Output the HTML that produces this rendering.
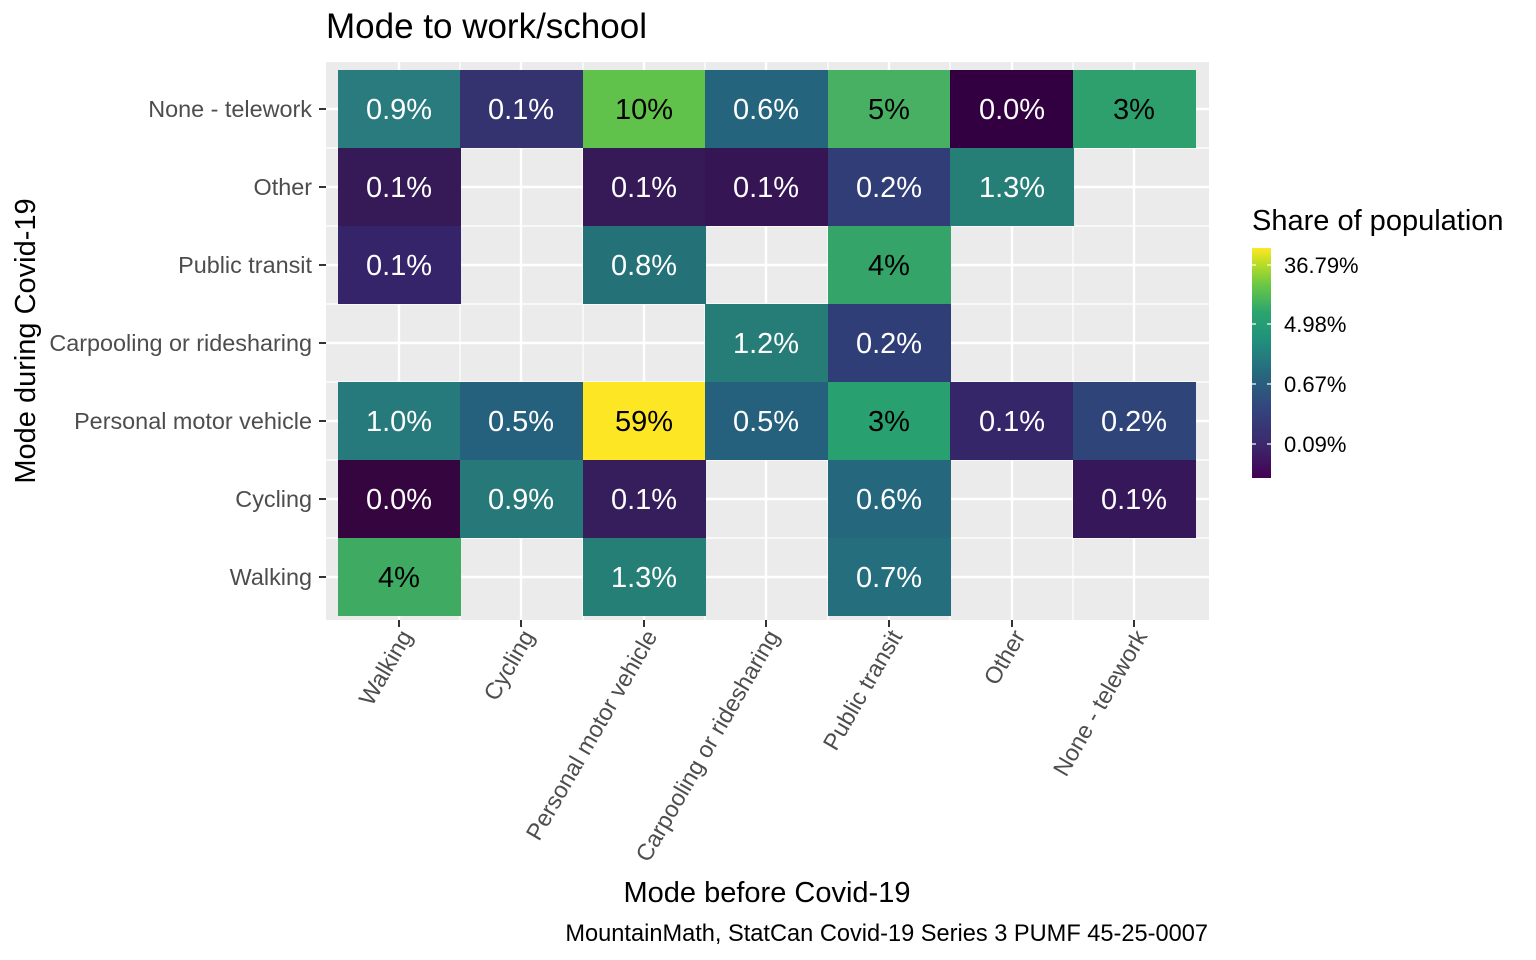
<!DOCTYPE html>
<html><head><meta charset="utf-8"><style>body{margin:0;background:#fff}svg{display:block}text{font-family:"Liberation Sans",sans-serif}</style></head><body>
<svg width="1536" height="960" xmlns="http://www.w3.org/2000/svg">
<defs><linearGradient id="g" x1="0" y1="1" x2="0" y2="0">
<stop offset="0" stop-color="#440154"/><stop offset="0.15" stop-color="#3b2a6e"/><stop offset="0.3" stop-color="#34447e"/><stop offset="0.45" stop-color="#27677e"/><stop offset="0.6" stop-color="#21907d"/><stop offset="0.72" stop-color="#2ba56e"/><stop offset="0.84" stop-color="#6ac845"/><stop offset="0.94" stop-color="#c2df23"/><stop offset="1" stop-color="#fde725"/></linearGradient></defs>
<text x="326" y="38" font-size="35">Mode to work/school</text>
<rect x="326" y="62" width="883" height="558" fill="#ebebeb"/>
<g stroke="#fff" stroke-width="1.2">
<line x1="460" y1="62" x2="460" y2="620"/><line x1="583" y1="62" x2="583" y2="620"/><line x1="705" y1="62" x2="705" y2="620"/><line x1="828" y1="62" x2="828" y2="620"/><line x1="950" y1="62" x2="950" y2="620"/><line x1="1073" y1="62" x2="1073" y2="620"/>
<line x1="326" y1="148" x2="1209" y2="148"/><line x1="326" y1="226" x2="1209" y2="226"/><line x1="326" y1="304" x2="1209" y2="304"/><line x1="326" y1="382" x2="1209" y2="382"/><line x1="326" y1="460" x2="1209" y2="460"/><line x1="326" y1="538" x2="1209" y2="538"/>
</g>
<g stroke="#fff" stroke-width="2.4">
<line x1="399" y1="62" x2="399" y2="620"/><line x1="521" y1="62" x2="521" y2="620"/><line x1="644" y1="62" x2="644" y2="620"/><line x1="766" y1="62" x2="766" y2="620"/><line x1="889" y1="62" x2="889" y2="620"/><line x1="1012" y1="62" x2="1012" y2="620"/><line x1="1134" y1="62" x2="1134" y2="620"/>
<line x1="326" y1="109" x2="1209" y2="109"/><line x1="326" y1="187" x2="1209" y2="187"/><line x1="326" y1="265" x2="1209" y2="265"/><line x1="326" y1="343" x2="1209" y2="343"/><line x1="326" y1="421" x2="1209" y2="421"/><line x1="326" y1="499" x2="1209" y2="499"/><line x1="326" y1="577" x2="1209" y2="577"/>
</g>
<g>
<rect x="338" y="70" width="123" height="78" fill="#297b7e"/><rect x="460" y="70" width="124" height="78" fill="#35336f"/><rect x="583" y="70" width="123" height="78" fill="#60c24a"/><rect x="705" y="70" width="124" height="78" fill="#24657d"/><rect x="828" y="70" width="123" height="78" fill="#48b063"/><rect x="950" y="70" width="124" height="78" fill="#320040"/><rect x="1073" y="70" width="123" height="78" fill="#2ea06e"/>
<rect x="338" y="148" width="123" height="78" fill="#361a57"/><rect x="583" y="148" width="123" height="78" fill="#361a57"/><rect x="705" y="148" width="124" height="78" fill="#361555"/><rect x="828" y="148" width="123" height="78" fill="#303d76"/><rect x="950" y="148" width="124" height="78" fill="#257f77"/>
<rect x="338" y="226" width="123" height="78" fill="#35246a"/><rect x="583" y="226" width="123" height="78" fill="#247278"/><rect x="828" y="226" width="123" height="78" fill="#34a468"/>
<rect x="705" y="304" width="124" height="78" fill="#267d78"/><rect x="828" y="304" width="123" height="78" fill="#303e77"/>
<rect x="338" y="382" width="123" height="78" fill="#277a7b"/><rect x="460" y="382" width="124" height="78" fill="#25607c"/><rect x="583" y="382" width="123" height="78" fill="#fde725"/><rect x="705" y="382" width="124" height="78" fill="#25607c"/><rect x="828" y="382" width="123" height="78" fill="#29a070"/><rect x="950" y="382" width="124" height="78" fill="#35266a"/><rect x="1073" y="382" width="123" height="78" fill="#2f4478"/>
<rect x="338" y="460" width="123" height="78" fill="#34053f"/><rect x="460" y="460" width="124" height="78" fill="#277878"/><rect x="583" y="460" width="123" height="78" fill="#361d5c"/><rect x="828" y="460" width="123" height="78" fill="#25687e"/><rect x="1073" y="460" width="123" height="78" fill="#36185a"/>
<rect x="338" y="538" width="123" height="78" fill="#3fab62"/><rect x="583" y="538" width="123" height="78" fill="#257f77"/><rect x="828" y="538" width="123" height="78" fill="#246e7d"/>
</g>
<g font-size="29" text-anchor="middle" fill="#fff">
<text x="399" y="119">0.9%</text><text x="521" y="119">0.1%</text><text x="644" y="119" fill="#000">10%</text><text x="766" y="119">0.6%</text><text x="889" y="119" fill="#000">5%</text><text x="1012" y="119">0.0%</text><text x="1134" y="119" fill="#000">3%</text>
<text x="399" y="197">0.1%</text><text x="644" y="197">0.1%</text><text x="766" y="197">0.1%</text><text x="889" y="197">0.2%</text><text x="1012" y="197">1.3%</text>
<text x="399" y="275">0.1%</text><text x="644" y="275">0.8%</text><text x="889" y="275" fill="#000">4%</text>
<text x="766" y="353">1.2%</text><text x="889" y="353">0.2%</text>
<text x="399" y="431">1.0%</text><text x="521" y="431">0.5%</text><text x="644" y="431" fill="#000">59%</text><text x="766" y="431">0.5%</text><text x="889" y="431" fill="#000">3%</text><text x="1012" y="431">0.1%</text><text x="1134" y="431">0.2%</text>
<text x="399" y="509">0.0%</text><text x="521" y="509">0.9%</text><text x="644" y="509">0.1%</text><text x="889" y="509">0.6%</text><text x="1134" y="509">0.1%</text>
<text x="399" y="587" fill="#000">4%</text><text x="644" y="587">1.3%</text><text x="889" y="587">0.7%</text>
</g>
<g stroke="#333" stroke-width="2">
<line x1="319" y1="109" x2="326" y2="109"/><line x1="319" y1="187" x2="326" y2="187"/><line x1="319" y1="265" x2="326" y2="265"/><line x1="319" y1="343" x2="326" y2="343"/><line x1="319" y1="421" x2="326" y2="421"/><line x1="319" y1="499" x2="326" y2="499"/><line x1="319" y1="577" x2="326" y2="577"/>
<line x1="399" y1="620" x2="399" y2="627"/><line x1="521" y1="620" x2="521" y2="627"/><line x1="644" y1="620" x2="644" y2="627"/><line x1="766" y1="620" x2="766" y2="627"/><line x1="889" y1="620" x2="889" y2="627"/><line x1="1012" y1="620" x2="1012" y2="627"/><line x1="1134" y1="620" x2="1134" y2="627"/>
</g>
<g font-size="23.4" fill="#4d4d4d" text-anchor="end">
<text x="312" y="117">None - telework</text><text x="312" y="195">Other</text><text x="312" y="273">Public transit</text><text x="312" y="351">Carpooling or ridesharing</text><text x="312" y="429">Personal motor vehicle</text><text x="312" y="507">Cycling</text><text x="312" y="585">Walking</text>
<text transform="translate(413,636) rotate(-60)">Walking</text>
<text transform="translate(535,636) rotate(-60)">Cycling</text>
<text transform="translate(658,636) rotate(-60)">Personal motor vehicle</text>
<text transform="translate(780,636) rotate(-60)">Carpooling or ridesharing</text>
<text transform="translate(903,636) rotate(-60)">Public transit</text>
<text transform="translate(1026,636) rotate(-60)">Other</text>
<text transform="translate(1148,636) rotate(-60)">None - telework</text>
</g>
<text x="767" y="902" font-size="29" text-anchor="middle">Mode before Covid-19</text>
<text transform="translate(35,341) rotate(-90)" font-size="29" text-anchor="middle">Mode during Covid-19</text>
<text x="1208" y="941" font-size="23.6" text-anchor="end">MountainMath, StatCan Covid-19 Series 3 PUMF 45-25-0007</text>
<text x="1252" y="230" font-size="29">Share of population</text>
<rect x="1252" y="248" width="19" height="230" fill="url(#g)"/>
<g stroke="#fff" stroke-width="1.2">
<line x1="1252" y1="265" x2="1256" y2="265"/><line x1="1267" y1="265" x2="1271" y2="265"/>
<line x1="1252" y1="324" x2="1256" y2="324"/><line x1="1267" y1="324" x2="1271" y2="324"/>
<line x1="1252" y1="384" x2="1256" y2="384"/><line x1="1267" y1="384" x2="1271" y2="384"/>
<line x1="1252" y1="444" x2="1256" y2="444"/><line x1="1267" y1="444" x2="1271" y2="444"/>
</g>
<g font-size="22">
<text x="1284" y="273">36.79%</text><text x="1284" y="332">4.98%</text><text x="1284" y="392">0.67%</text><text x="1284" y="452">0.09%</text>
</g>
</svg>
</body></html>
